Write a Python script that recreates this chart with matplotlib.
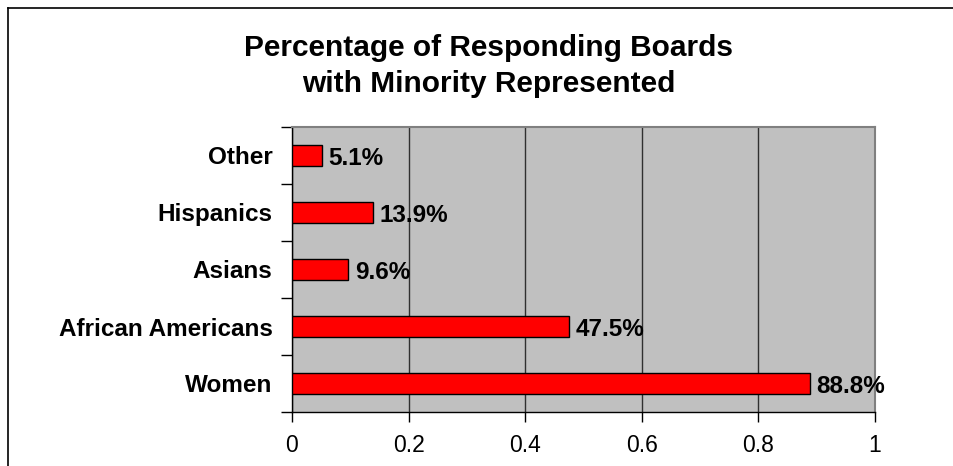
import matplotlib
matplotlib.use('Agg')
from matplotlib import pyplot as plt
from matplotlib.lines import Line2D
from matplotlib.ticker import FixedLocator, NullFormatter

plt.rcParams['font.family'] = ['Liberation Sans', 'DejaVu Sans']

# data, bottom to top
groups = ['Women', 'African Americans', 'Asians', 'Hispanics', 'Other']
shares = [0.888, 0.475, 0.096, 0.139, 0.051]
share_labels = ['88.8%', '47.5%', '9.6%', '13.9%', '5.1%']
xticks = [0, 0.2, 0.4, 0.6, 0.8, 1]
xtick_labels = ['0', '0.2', '0.4', '0.6', '0.8', '1']

fig = plt.figure(figsize=(9.54, 4.66), dpi=100)
ax = fig.add_axes([292 / 954, 54 / 466, 583 / 954, 285 / 466])

ax.set_facecolor('#c0c0c0')
ypos = range(len(groups))
ax.barh(ypos, shares, height=0.38, color='#ff0000', edgecolor='black',
        linewidth=1, zorder=3)

for y, v, lab in zip(ypos, shares, share_labels):
    ax.annotate(lab, (v, y), xytext=(5, -2), textcoords='offset points',
                ha='left', va='center', fontsize=17.5, fontweight='bold',
                zorder=4, annotation_clip=False)

ax.set_xlim(0, 1)
ax.set_ylim(-0.5, len(groups) - 0.5)

ax.set_xticks(xticks)
ax.set_xticklabels(xtick_labels, fontsize=16.5)
ax.tick_params(axis='x', length=7, width=1, pad=9)
ax.xaxis.grid(True, color='#303030', linewidth=1, zorder=1)

# category labels centred, ticks between categories
ax.set_yticks(list(ypos))
ax.set_yticklabels(groups, fontsize=17.5, fontweight='bold')
ax.tick_params(axis='y', which='major', length=0, pad=14)
ax.yaxis.set_minor_locator(FixedLocator([i - 0.5 for i in range(len(groups) + 1)]))
ax.yaxis.set_minor_formatter(NullFormatter())
ax.tick_params(axis='y', which='minor', length=8, width=1)

for s in ['left', 'bottom']:
    ax.spines[s].set_color('black')
    ax.spines[s].set_linewidth(1)
for s in ['top', 'right']:
    ax.spines[s].set_color('#808080')
    ax.spines[s].set_linewidth(1.5)

fig.text(0.512, 1 - 48 / 466, 'Percentage of Responding Boards',
         ha='center', va='center', fontsize=21.5, fontweight='bold')
fig.text(0.512, 1 - 84 / 466, 'with Minority Represented',
         ha='center', va='center', fontsize=21.5, fontweight='bold')

# outer chart frame (cut off at right and bottom)
fig.add_artist(Line2D([8 / 954, 8 / 954], [0, 1 - 8 / 466], color='black',
                      linewidth=1.2, transform=fig.transFigure))
fig.add_artist(Line2D([8 / 954, 1], [1 - 8 / 466, 1 - 8 / 466], color='black',
                      linewidth=1.2, transform=fig.transFigure))

fig.savefig('out.png', dpi=100)
